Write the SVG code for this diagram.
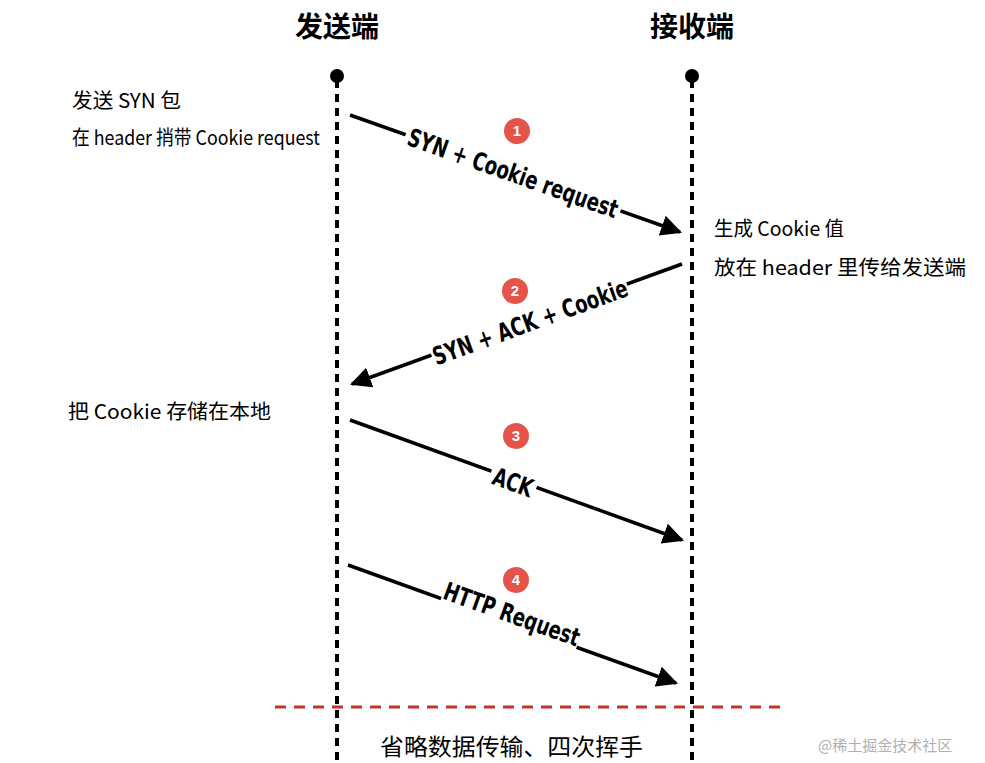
<svg xmlns="http://www.w3.org/2000/svg" width="985" height="763" viewBox="0 0 985 763">
<defs>
<marker id="ah" viewBox="0 0 10 10" refX="9" refY="5" markerWidth="6" markerHeight="6" markerUnits="strokeWidth" orient="auto"><path d="M0,0 L10,5 L0,10 z" fill="#000"/></marker>
<style>
.life{stroke:#000;stroke-width:4;stroke-dasharray:8 6;fill:none}
.msg{stroke:#000;stroke-width:3.5;fill:none;marker-end:url(#ah)}
.lbl{font-family:"DejaVu Sans",sans-serif;font-weight:bold;font-size:25px;fill:#000;text-anchor:middle}
.bg{fill:#fff}
.t{font-family:"Noto Sans CJK SC",sans-serif;font-size:20px;fill:#000}
.h{font-family:"Noto Sans CJK SC",sans-serif;font-size:28px;font-weight:bold;fill:#000;text-anchor:middle}
.bc{fill:#e5534b}
.bn{font-family:"Liberation Sans",sans-serif;font-weight:bold;font-size:15px;fill:#fff;text-anchor:middle}
</style>
</defs>
<rect width="985" height="763" fill="#fff"/>
<g id="sender"><text class="h" x="337" y="37">发送端</text><circle cx="337" cy="76" r="7"/><line class="life" x1="337" y1="80" x2="337" y2="763"/></g>
<g id="receiver"><text class="h" x="692" y="37">接收端</text><circle cx="692" cy="76" r="7"/><line class="life" x1="692" y1="80" x2="692" y2="763"/></g>
<g id="connectors">
<line class="msg" x1="350" y1="115" x2="680" y2="232"/>
<line class="msg" x1="682" y1="264" x2="352" y2="384"/>
<line class="msg" x1="350" y1="420" x2="682" y2="540"/>
<line class="msg" x1="348" y1="565" x2="676" y2="683"/>
<line x1="275" y1="707" x2="785" y2="707" stroke="#c9302c" stroke-width="3" stroke-dasharray="11 8"/>
</g>
<g id="labels">
<g transform="translate(513,173) rotate(19.5)"><rect class="bg" x="-114" y="-12" width="228" height="24"/><text class="lbl" y="9" transform="scale(0.72,1)">SYN + Cookie request</text></g>
<g transform="translate(530,322) rotate(-20)"><rect class="bg" x="-104" y="-12" width="208" height="24"/><text class="lbl" y="9" transform="scale(0.72,1)">SYN + ACK + Cookie</text></g>
<g transform="translate(513,482) rotate(19.8)"><rect class="bg" x="-24" y="-12" width="48" height="24"/><text class="lbl" y="9" transform="scale(0.72,1)">ACK</text></g>
<g transform="translate(512,614) rotate(19.8)"><rect class="bg" x="-72" y="-12" width="144" height="24"/><text class="lbl" y="9" transform="scale(0.72,1)">HTTP Request</text></g>
</g>
<g id="badges">
<circle class="bc" cx="517" cy="131" r="13"/><text class="bn" x="517" y="136">1</text>
<circle class="bc" cx="515" cy="291" r="13"/><text class="bn" x="515" y="296">2</text>
<circle class="bc" cx="516" cy="436" r="13"/><text class="bn" x="516" y="441">3</text>
<circle class="bc" cx="516" cy="580" r="13"/><text class="bn" x="516" y="585">4</text>
</g>
<g id="notes">
<text class="t" x="72" y="108" textLength="109" lengthAdjust="spacingAndGlyphs">发送 SYN 包</text>
<text class="t" x="72" y="145" textLength="248" lengthAdjust="spacingAndGlyphs">在 header 捎带 Cookie request</text>
<text class="t" x="68" y="419" textLength="203" lengthAdjust="spacingAndGlyphs">把 Cookie 存储在本地</text>
<text class="t" x="714" y="236" textLength="130" lengthAdjust="spacingAndGlyphs">生成 Cookie 值</text>
<text class="t" x="714" y="275" textLength="252" lengthAdjust="spacingAndGlyphs">放在 header 里传给发送端</text>
<text class="t" x="380" y="755" style="font-size:23px" textLength="263" lengthAdjust="spacingAndGlyphs">省略数据传输、四次挥手</text>
<text class="t" x="818" y="751" style="font-size:15px;fill:#b0b0b0">@稀土掘金技术社区</text>
</g>
</svg>
